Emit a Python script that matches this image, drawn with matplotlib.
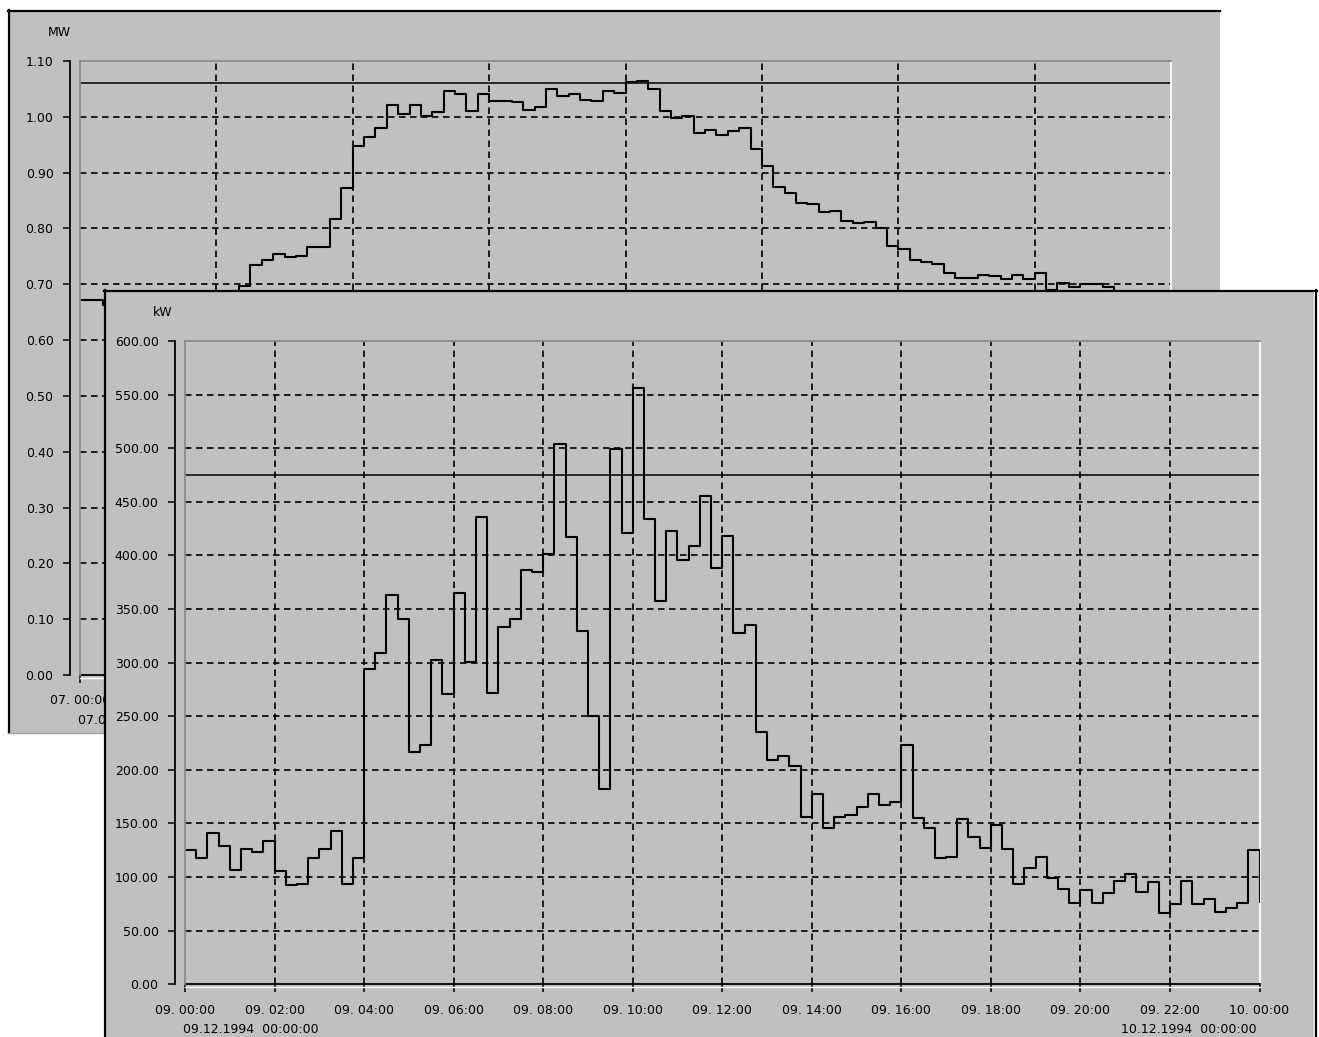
import numpy as np
import matplotlib
matplotlib.use("Agg")
import matplotlib.pyplot as plt
from matplotlib.lines import Line2D
from matplotlib.patches import Rectangle
import matplotlib.transforms as mtransforms

plt.rcParams['font.family'] = ['DejaVu Sans']

# ---------------- data ----------------
# back window: 07., 15-minute values in MW
back_values = [0.672, 0.672, 0.663, 0.662, 0.665, 0.668, 0.670, 0.672, 0.675, 0.678, 0.680, 0.683,
               0.686, 0.688, 0.697, 0.735, 0.743, 0.754, 0.748, 0.751, 0.766, 0.766, 0.817, 0.873,
               0.947, 0.964, 0.980, 1.022, 1.005, 1.022, 1.002, 1.009, 1.047, 1.040, 1.011, 1.040,
               1.029, 1.029, 1.026, 1.013, 1.017, 1.050, 1.037, 1.040, 1.031, 1.028, 1.047, 1.043,
               1.062, 1.065, 1.050, 1.011, 0.997, 1.002, 0.971, 0.977, 0.968, 0.974, 0.980, 0.943,
               0.912, 0.875, 0.863, 0.845, 0.843, 0.829, 0.831, 0.814, 0.809, 0.811, 0.800, 0.769,
               0.763, 0.744, 0.740, 0.737, 0.720, 0.711, 0.711, 0.717, 0.714, 0.709, 0.717, 0.709,
               0.720, 0.690, 0.702, 0.696, 0.700, 0.700, 0.696, 0.686, 0.683, 0.680, 0.678, 0.676]
back_limit = 1.06
back_unit = "MW"
back_yticks = [0.00, 0.10, 0.20, 0.30, 0.40, 0.50, 0.60, 0.70, 0.80, 0.90, 1.00, 1.10]
back_ylabels = ["0.00", "0.10", "0.20", "0.30", "0.40", "0.50", "0.60", "0.70", "0.80", "0.90", "1.00", "1.10"]
back_xticks = [0, 3, 6, 9, 12, 15, 18, 21, 24]
back_xlabels = ["07. 00:00", "07. 03:00", "07. 06:00", "07. 09:00", "07. 12:00",
                "07. 15:00", "07. 18:00", "07. 21:00", "08. 00:00"]
back_date_start = "07.07.1994  00:00:00"
back_date_end = "08.07.1994  00:00:00"

# front window: 09.12.1994, 15-minute values in kW
front_values = [125, 117.6, 141, 129, 106.7, 126.6, 123.2, 134, 105.8, 92.4, 93.7, 117.6,
                126.6, 142.8, 93.7, 117.6, 294, 308.7, 363, 340.4, 217, 223, 302.5, 270.5,
                364.8, 301, 436.3, 271.5, 333.7, 340.8, 386.5, 385, 401, 504, 417.6, 329.7,
                249.8, 182.4, 499.4, 420.7, 556, 433.8, 357.6, 422.9, 395.4, 409, 455.8, 388.3,
                417.8, 327.6, 335.4, 235.2, 208.8, 213.1, 203.2, 155.9, 177.7, 145.6, 155.9, 157.5,
                164.9, 177.7, 167.4, 170.2, 223.4, 155.5, 145.6, 117.5, 118.5, 154.3, 137.8, 127.5,
                148.7, 126.3, 93.6, 108.8, 118.8, 98.9, 89, 76.2, 88, 76.2, 84.9, 96.7,
                102.6, 86.4, 95.1, 66.2, 74.9, 96.7, 74.7, 79.3, 67.1, 71.5, 76.2, 125]
front_end_value = 77
front_limit = 475
front_unit = "kW"
front_yticks = [0, 50, 100, 150, 200, 250, 300, 350, 400, 450, 500, 550, 600]
front_ylabels = ["0.00", "50.00", "100.00", "150.00", "200.00", "250.00", "300.00",
                 "350.00", "400.00", "450.00", "500.00", "550.00", "600.00"]
front_xticks = [0, 2, 4, 6, 8, 10, 12, 14, 16, 18, 20, 22, 24]
front_xlabels = ["09. 00:00", "09. 02:00", "09. 04:00", "09. 06:00", "09. 08:00", "09. 10:00",
                 "09. 12:00", "09. 14:00", "09. 16:00", "09. 18:00", "09. 20:00", "09. 22:00",
                 "10. 00:00"]
front_date_start = "09.12.1994  00:00:00"
front_date_end = "10.12.1994  00:00:00"

# ---------------- layout ----------------
W, H = 1319, 1037
GREY = '#c0c0c0'
BORDER = '#8a8a8a'
fig = plt.figure(figsize=(W / 100, H / 100), dpi=100)
fig.patch.set_facecolor('white')


def box(x0, y0, x1, y1):
    return [x0 / W, 1 - y1 / H, (x1 - x0) / W, (y1 - y0) / H]


def fline(xs, ys, z, color='black', lw=1.6):
    fig.add_artist(Line2D([x / W for x in xs], [1 - y / H for y in ys],
                          transform=fig.transFigure, color=color, lw=lw, zorder=z))


def window(x0, y0, x1, y1, z, right=False):
    fig.add_artist(Rectangle((x0 / W, 1 - y1 / H), (x1 - x0) / W, (y1 - y0) / H,
                             transform=fig.transFigure, facecolor=GREY,
                             edgecolor='none', zorder=z))
    fline([x0 + 1, x0 + 1], [y0, y1], z)
    fline([x0, x1], [y0 + 1, y0 + 1], z)
    if right:
        fline([x1 - 3, x1 - 3], [y0 + 2, y1], z, color='white', lw=1.0)
        fline([x1 - 1, x1 - 1], [y0, y1], z)


def chart(rect, z, values, end_value, limit, unit, yticks, ylabels, xticks, xlabels,
          date_start, date_end, ymax):
    ax = fig.add_axes(rect)
    ax.set_zorder(z)
    ax.set_facecolor(GREY)
    n = len(values)
    xs = np.arange(n + 1) * 24.0 / n
    ys = list(values) + [end_value]
    ax.set_xlim(0, 24)
    ax.set_ylim(0, ymax)

    dash = (0, (3.9, 2.7))
    for v in yticks[1:-1]:
        ax.axhline(v, color='black', lw=1.2, ls=dash, zorder=1)
    for v in xticks[1:-1]:
        ax.axvline(v, color='black', lw=1.2, ls=dash, zorder=1)
    ax.axhline(limit, color='black', lw=1.1, zorder=2)
    ax.step(xs, ys, where='post', color='black', lw=1.5, zorder=3)

    for s in ax.spines.values():
        s.set_linewidth(1.3)
    ax.spines['left'].set_position(('outward', 7))
    ax.spines['left'].set_color('black')
    ax.spines['top'].set_color(BORDER)
    ax.spines['right'].set_color('white')
    ax.spines['bottom'].set_color('black')
    ax.plot([0, 0], [0, 1], transform=ax.transAxes, color=BORDER, lw=1.3, clip_on=False, zorder=4)
    off = mtransforms.ScaledTranslation(0, -2.5 / 100, fig.dpi_scale_trans)
    ax.plot([0, 1], [0, 0], transform=ax.transAxes + off, color='white', lw=1.0,
            clip_on=False, zorder=4)

    ax.set_yticks(yticks, ylabels)
    ax.set_xticks(xticks, xlabels)
    ax.tick_params(axis='y', direction='out', length=5, width=1.1, pad=7,
                   labelsize=9, colors='black')
    ax.tick_params(axis='x', direction='out', length=6, width=1.1, pad=8,
                   labelsize=9, colors='black')

    ax.annotate(unit, xy=(0, 1), xycoords='axes fraction', xytext=(-32, 29),
                textcoords='offset pixels', ha='left', va='center', fontsize=9)
    ax.annotate(date_start, xy=(0, 0), xycoords=('data', 'axes fraction'),
                xytext=(-2, -45), textcoords='offset pixels', ha='left', va='center',
                fontsize=9, annotation_clip=False)
    ax.annotate(date_end, xy=(24, 0), xycoords=('data', 'axes fraction'),
                xytext=(-3, -45), textcoords='offset pixels', ha='right', va='center',
                fontsize=9, annotation_clip=False)
    return ax


# back window
window(8, 10, 1220, 733, 0.5)
fline([8, 1220], [733, 733], 0.5, color='#a0a0a0', lw=1.0)
chart(box(80, 61, 1171, 675), 1, back_values, back_values[-1], back_limit, back_unit,
      back_yticks, back_ylabels, back_xticks, back_xlabels, back_date_start, back_date_end, 1.10)

# front window
window(104, 290, 1317, 1040, 2, right=True)
chart(box(185, 341, 1259.5, 984.3), 3, front_values, front_end_value, front_limit, front_unit,
      front_yticks, front_ylabels, front_xticks, front_xlabels, front_date_start, front_date_end, 600)

fig.savefig("out.png", dpi=100, facecolor='white')
